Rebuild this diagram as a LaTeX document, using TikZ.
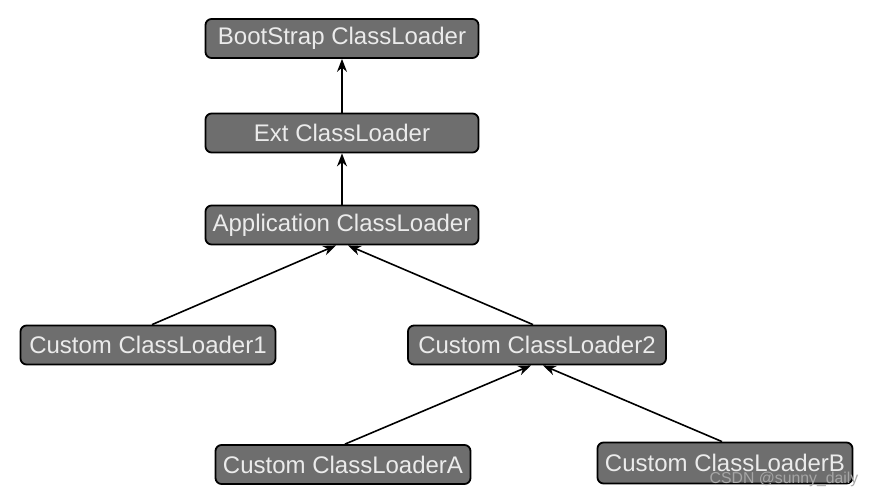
\documentclass[tikz,border=0pt]{standalone}
\usepackage{fontspec}
\setmainfont{Liberation Sans}
\usetikzlibrary{arrows.meta}

\begin{document}
\begin{tikzpicture}[x=0.5pt,y=-0.5pt,
  loader/.style={draw=black,line width=0.9pt,rounded corners=3pt,fill=black!57,
    text=black!8,font=\fontsize{12}{14}\selectfont,inner xsep=3pt,inner ysep=0pt,
    minimum height=19.5pt,minimum width=127.5pt},
  toploader/.style={loader,minimum width=136.5pt},
  link/.style={line width=0.8pt,-{Stealth[length=6.5pt,width=5pt]}}]
\useasboundingbox (0,0) rectangle (875,498);
% chain of parents
\node[toploader] (boot) at (342,38.5) {BootStrap ClassLoader};
\node[toploader] (ext) at (342,133) {Ext ClassLoader};
\node[toploader] (app) at (342,225) {Application ClassLoader};
% custom loaders
\node[loader] (cust1) at (148,345) {Custom ClassLoader1};
\node[loader,minimum width=129pt] (cust2) at (537,345) {Custom ClassLoader2};
\node[loader] (custA) at (343,464.5) {Custom ClassLoaderA};
\node[loader,minimum height=20.5pt] (custB) at (725,463) {Custom ClassLoaderB};
\draw[link] (ext.north) -- (boot.south);
\draw[link] (app.north) -- (ext.south);
\draw[link] ([xshift=2pt]cust1.north) -- ([xshift=-3pt]app.south);
\draw[link] ([xshift=-2pt]cust2.north) -- ([xshift=3pt]app.south);
\draw[link] ([xshift=1pt]custA.north) -- ([xshift=-3pt]cust2.south);
\draw[link] ([xshift=-1.5pt]custB.north) -- ([xshift=3pt]cust2.south);
% watermark
\node[text=black!35,font=\fontsize{7.9}{9}\selectfont,inner sep=0pt] (mark) at (784,479) {CSDN @sunny\_daily};
\end{tikzpicture}
\end{document}
